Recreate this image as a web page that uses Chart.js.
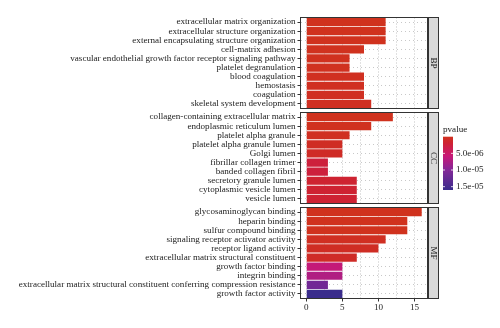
<!DOCTYPE html>
<html><head><meta charset="utf-8">
<script src="https://cdn.jsdelivr.net/npm/chart.js@4.4.1/dist/chart.umd.min.js"></script>
<style>
html,body{margin:0;padding:0;background:#fff;}
#wrap{position:relative;width:500px;height:328px;overflow:hidden;background:#fff;}
#wrap canvas{position:absolute;left:0;top:0;}
</style></head><body>
<div id="wrap">
<canvas id="cBP" width="500" height="328"></canvas>
<canvas id="cCC" width="500" height="328"></canvas>
<canvas id="cMF" width="500" height="328"></canvas>
</div>
<script>
// ---------- data ----------
const bpTerms = ['extracellular matrix organization','extracellular structure organization','external encapsulating structure organization','cell-matrix adhesion','vascular endothelial growth factor receptor signaling pathway','platelet degranulation','blood coagulation','hemostasis','coagulation','skeletal system development'];
const bpCounts = [11, 11, 11, 8, 6, 6, 8, 8, 8, 9];
const bpPvalues = [2e-10, 2e-10, 2e-10, 6e-8, 1.2e-7, 1.5e-7, 3e-7, 3.2e-7, 3.5e-7, 4e-7];

const ccTerms = ['collagen-containing extracellular matrix','endoplasmic reticulum lumen','platelet alpha granule','platelet alpha granule lumen','Golgi lumen','fibrillar collagen trimer','banded collagen fibril','secretory granule lumen','cytoplasmic vesicle lumen','vesicle lumen'];
const ccCounts = [12, 9, 6, 5, 5, 3, 3, 7, 7, 7];
const ccPvalues = [8e-11, 1e-7, 4e-7, 6e-7, 8e-7, 2.5e-6, 2.5e-6, 1.8e-6, 1.9e-6, 2.0e-6];

const mfTerms = ['glycosaminoglycan binding','heparin binding','sulfur compound binding','signaling receptor activator activity','receptor ligand activity','extracellular matrix structural constituent','growth factor binding','integrin binding','extracellular matrix structural constituent conferring compression resistance','growth factor activity'];
const mfCounts = [16, 14, 14, 11, 10, 7, 5, 5, 3, 5];
const mfPvalues = [1e-10, 5e-9, 6e-9, 4e-7, 6e-7, 9e-7, 6.0e-6, 7.2e-6, 1.15e-5, 1.6e-5];

const facetLabels = ['BP', 'CC', 'MF'];
const xTickValues = [0, 2.5, 5, 7.5, 10, 12.5, 15];
const legendTickValues = [5e-6, 1e-5, 1.5e-5];
const legendTickLabels = ['5.0e-06', '1.0e-05', '1.5e-05'];
const legendTitle = 'pvalue';

// ---------- colour scale ----------
const allP = bpPvalues.concat(ccPvalues, mfPvalues);
const pMin = Math.min(...allP), pMax = Math.max(...allP);
const colorStops = [
  [0.00, [208, 50, 30]],
  [0.12, [206, 34, 50]],
  [0.36, [200, 24, 118]],
  [0.62, [132, 40, 152]],
  [1.00, [58, 44, 140]]
];
function pColor(p) {
  const t = Math.max(0, Math.min(1, (p - pMin) / (pMax - pMin)));
  for (let i = 1; i < colorStops.length; i++) {
    const [t1, c1] = colorStops[i];
    const [t0, c0] = colorStops[i - 1];
    if (t <= t1) {
      const f = (t - t0) / (t1 - t0);
      const c = c0.map((v, k) => Math.round(v + (c1[k] - v) * f));
      return `rgb(${c[0]},${c[1]},${c[2]})`;
    }
  }
  const c = colorStops[colorStops.length - 1][1];
  return `rgb(${c[0]},${c[1]},${c[2]})`;
}

// ---------- layout ----------
const FONT = "'Liberation Serif', 'Times New Roman', serif";
const FS = 9.1;
Chart.defaults.font.family = FONT;
Chart.defaults.font.size = FS;
Chart.defaults.color = '#222';
const W = 500, H = 328;
const PANEL_LEFT = 300.5, PANEL_RIGHT = 427.5;
const panels = [
  {id: 'cBP', top: 17.5, bottom: 108.5, terms: bpTerms, counts: bpCounts, pv: bpPvalues, label: facetLabels[0], axis: false, legend: false},
  {id: 'cCC', top: 112.5, bottom: 203.5, terms: ccTerms, counts: ccCounts, pv: ccPvalues, label: facetLabels[1], axis: false, legend: false},
  {id: 'cMF', top: 207.5, bottom: 298.5, terms: mfTerms, counts: mfCounts, pv: mfPvalues, label: facetLabels[2], axis: true, legend: true}
];

function facetPlugin(pn) {
  return {
    id: 'facet_' + pn.label,
    afterDraw(chart) {
      const {ctx, chartArea: a} = chart;
      ctx.save();
      ctx.strokeStyle = '#333';
      ctx.lineWidth = 1;
      ctx.strokeRect(a.left, a.top, a.right - a.left, a.bottom - a.top);
      const sx = a.right + 1, sw = 10;
      ctx.fillStyle = '#D9D9D9';
      ctx.fillRect(sx, a.top, sw, a.bottom - a.top);
      ctx.strokeRect(sx, a.top, sw, a.bottom - a.top);
      ctx.translate(sx + sw / 2, (a.top + a.bottom) / 2);
      ctx.rotate(Math.PI / 2);
      ctx.fillStyle = '#1A1A1A';
      ctx.font = `${FS}px ${FONT}`;
      ctx.textAlign = 'center';
      ctx.textBaseline = 'middle';
      ctx.fillText(pn.label, 0, 0.5);
      ctx.restore();

      if (pn.legend) {
        const lx = 443, lw = 10, lt = 136.7, lb = 190;
        const yOf = p => lt + (p - pMin) / (pMax - pMin) * (lb - lt);
        ctx.save();
        const g = ctx.createLinearGradient(0, lt, 0, lb);
        colorStops.forEach(([t, c]) => g.addColorStop(t, `rgb(${c[0]},${c[1]},${c[2]})`));
        ctx.fillStyle = g;
        ctx.fillRect(lx, lt, lw, lb - lt);
        ctx.strokeStyle = '#fff';
        ctx.lineWidth = 0.8;
        legendTickValues.forEach(v => {
          const y = yOf(v);
          ctx.beginPath();
          ctx.moveTo(lx, y); ctx.lineTo(lx + 2, y);
          ctx.moveTo(lx + lw - 2, y); ctx.lineTo(lx + lw, y);
          ctx.stroke();
        });
        ctx.fillStyle = '#1A1A1A';
        ctx.font = `${FS}px ${FONT}`;
        ctx.textAlign = 'left';
        ctx.textBaseline = 'middle';
        ctx.fillText(legendTitle, lx, 130);
        ctx.fillStyle = '#222';
        legendTickValues.forEach((v, i) => ctx.fillText(legendTickLabels[i], lx + 13, yOf(v)));
        ctx.restore();
      }
    }
  };
}

panels.forEach(pn => {
  new Chart(document.getElementById(pn.id), {
    type: 'bar',
    data: {
      labels: pn.terms,
      datasets: [{
        data: pn.counts,
        backgroundColor: pn.pv.map(pColor),
        borderWidth: 0,
        barPercentage: 0.9,
        categoryPercentage: 1.0
      }]
    },
    options: {
      indexAxis: 'y',
      responsive: false,
      animation: false,
      devicePixelRatio: 1,
      events: [],
      layout: {padding: {left: 0, right: W - PANEL_RIGHT, top: pn.top, bottom: pn.axis ? 0 : H - pn.bottom}},
      plugins: {legend: {display: false}, tooltip: {enabled: false}},
      scales: {
        x: {
          type: 'linear',
          min: -0.8, max: 16.8,
          afterBuildTicks: s => { s.ticks = xTickValues.map(v => ({value: v})); },
          afterFit: s => { s.height = pn.axis ? H - pn.bottom : 0; },
          border: {display: false, dash: [1, 2]},
          grid: {
            color: '#c2c2c2', lineWidth: 1,
            drawTicks: pn.axis, tickLength: 3, tickWidth: 1,
            tickColor: c => (c.tick && c.tick.value % 5 === 0) ? '#333' : 'rgba(0,0,0,0)',
            tickBorderDash: []
          },
          ticks: {
            display: pn.axis, autoSkip: false, maxRotation: 0, padding: 1,
            color: '#222', font: {size: FS, family: FONT},
            callback: v => (v % 5 === 0 ? String(v) : '')
          }
        },
        y: {
          type: 'category',
          offset: true,
          afterFit: s => { s.width = PANEL_LEFT; },
          border: {display: false, dash: [1, 3]},
          grid: {
            offset: false, color: '#c8c8c8', lineWidth: 1,
            drawTicks: true, tickLength: 3, tickWidth: 1, tickColor: '#333', tickBorderDash: []
          },
          ticks: {autoSkip: false, padding: 2, color: '#222', font: {size: FS, family: FONT}}
        }
      }
    },
    plugins: [facetPlugin(pn)]
  });
});
</script>
</body></html>
